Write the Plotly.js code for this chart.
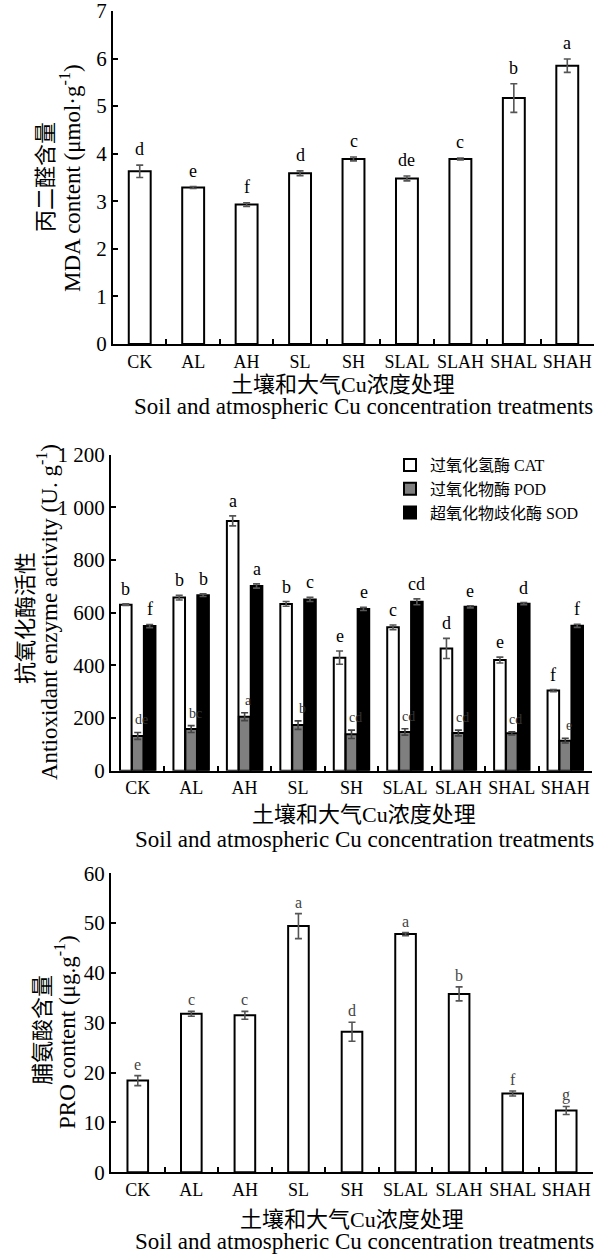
<!DOCTYPE html>
<html><head><meta charset="utf-8">
<script src="https://cdn.plot.ly/plotly-3.0.1.min.js"></script>
<style>html,body{margin:0;padding:0;background:#fff;overflow:hidden}</style>
</head><body>
<div id="chart" style="width:599px;height:1255px"></div>
<script>
// ---------- data ----------
const categories = ['CK','AL','AH','SL','SH','SLAL','SLAH','SHAL','SHAH'];

const mdaValues  = [3.63, 3.29, 2.93, 3.59, 3.89, 3.48, 3.89, 5.17, 5.85];
const mdaErrors  = [0.13, 0.02, 0.04, 0.05, 0.04, 0.05, 0.02, 0.30, 0.14];
const mdaLetters = ['d','e','f','d','c','de','c','b','a'];
const mdaTicks   = [0, 1, 2, 3, 4, 5, 6, 7];

const catValues  = [630, 657, 948, 633, 429, 544, 464, 420, 304];
const catErrors  = [3, 9, 19, 9, 25, 9, 38, 11, 4];
const catLetters = ['b','b','a','b','e','c','d','e','f'];

const podValues  = [132, 158, 205, 173, 138, 147, 143, 142, 114];
const podErrors  = [13, 13, 15, 16, 16, 12, 11, 6, 9];
const podLetters = ['de','bc','a','b','cd','cd','cd','cd','e'];

const sodValues  = [549, 666, 701, 650, 614, 641, 622, 634, 550];
const sodErrors  = [6, 5, 8, 8, 6, 11, 4, 4, 6];
const sodLetters = ['f','b','a','c','e','cd','e','d','f'];

const proValues  = [18.4, 31.8, 31.5, 49.4, 28.2, 47.8, 35.8, 15.8, 12.4];
const proErrors  = [1.0, 0.5, 0.8, 2.5, 1.9, 0.3, 1.4, 0.5, 0.8];
const proLetters = ['e','c','c','a','d','a','b','f','g'];
const proTicks   = [0, 10, 20, 30, 40, 50, 60];

const enzymeTickVals = [0, 200, 400, 600, 800, 1000, 1200];
const enzymeTickText = ['0','200','400','600','800','1 000','1 200'];

// ---------- styling ----------
const W = 599, H = 1255;
const FONT = 'Liberation Serif, "Times New Roman", "Noto Sans CJK SC", serif';
const px = x => x / W;
const py = y => 1 - y / H;

function err(arr, color) {
  return {type:'data', array:arr, visible:true, color:color || '#555', thickness:1.6, width:3.5};
}
const outline = {color:'#000', width:2};

const traces = [
  {type:'bar', x:categories, y:mdaValues, xaxis:'x', yaxis:'y', width:0.41,
   marker:{color:'#fff', line:outline}, error_y:err(mdaErrors), showlegend:false, hoverinfo:'skip'},
  {type:'bar', name:'过氧化氢酶 CAT', x:categories, y:catValues, xaxis:'x2', yaxis:'y2',
   marker:{color:'#fff', line:outline}, error_y:err(catErrors), hoverinfo:'skip'},
  {type:'bar', name:'过氧化物酶 POD', x:categories, y:podValues, xaxis:'x2', yaxis:'y2',
   marker:{color:'#7f7f7f', line:outline}, error_y:err(podErrors, '#444'), hoverinfo:'skip'},
  {type:'bar', name:'超氧化物歧化酶 SOD', x:categories, y:sodValues, xaxis:'x2', yaxis:'y2',
   marker:{color:'#000', line:outline}, error_y:err(sodErrors), hoverinfo:'skip'},
  {type:'bar', x:categories, y:proValues, xaxis:'x3', yaxis:'y3', width:0.385,
   marker:{color:'#fff', line:outline}, error_y:err(proErrors), showlegend:false, hoverinfo:'skip'}
];

function xAxis(domain, anchor) {
  return {domain:domain, anchor:anchor, type:'category', showline:true, linecolor:'#000', linewidth:2,
    ticks:'inside', tickson:'boundaries', ticklen:5, tickwidth:2, tickcolor:'#000', tickangle:0,
    automargin:false, showgrid:false, zeroline:false, tickfont:{family:FONT, size:18, color:'#000'}, fixedrange:true};
}
function yAxis(domain, anchor, range, vals, text) {
  return {domain:domain, anchor:anchor, range:range, showline:true, linecolor:'#000', linewidth:2,
    tickmode:'array', tickvals:vals, ticktext:text || vals.map(String), ticklabeloverflow:'allow',
    ticks:'inside', ticklen:5, tickwidth:2, tickcolor:'#000', showgrid:false, zeroline:false,
    automargin:false, tickfont:{family:FONT, size:21, color:'#000'}, fixedrange:true};
}

const annotations = [];
function letters(xref, yref, vals, errs, labs, size, color, xshift, yshift) {
  for (let i = 0; i < categories.length; i++) {
    annotations.push({xref:xref, yref:yref, x:categories[i], y:vals[i] + errs[i], text:labs[i],
      showarrow:false, yanchor:'bottom', xanchor:'center', xshift:xshift, yshift:yshift,
      font:{family:FONT, size:size, color:color}});
  }
}
letters('x','y', mdaValues, mdaErrors, mdaLetters, 18, '#000', 0, 4);
letters('x2','y2', catValues, catErrors, catLetters, 18, '#000', -12, 3);
letters('x2','y2', podValues, podErrors, podLetters, 14, '#333', 4, 3);
letters('x2','y2', sodValues, sodErrors, sodLetters, 18, '#000', 12, 3);
letters('x3','y3', proValues, proErrors, proLetters, 16, '#444', 0, 1);

function label(text, x, y, size, angle) {
  annotations.push({xref:'paper', yref:'paper', x:px(x), y:py(y), text:text, showarrow:false,
    xanchor:'center', yanchor:'middle', textangle:angle || 0,
    font:{family:FONT, size:size, color:'#000'}});
}
// axis titles
label('丙二醛含量', 45, 177, 22, -90);
label('MDA content (μmol·g<sup>-1</sup>)', 70, 178, 23, -90);
label('土壤和大气Cu浓度处理', 343, 385, 22);
label('Soil and atmospheric Cu concentration treatments', 363, 406, 23);

label('抗氧化酶活性', 25, 618, 22, -90);
label('Antioxidant enzyme activity (U. g<sup>-1</sup>)', 47, 612, 23, -90);
label('土壤和大气Cu浓度处理', 364, 814, 22);
label('Soil and atmospheric Cu concentration treatments', 364, 839, 23);

label('脯氨酸含量', 42, 1030, 22, -90);
label('PRO content (μg.g<sup>-1</sup>)', 65, 1032, 23, -90);
label('土壤和大气Cu浓度处理', 352, 1219, 22);
label('Soil and atmospheric Cu concentration treatments', 364, 1241, 23);

const layout = {
  width:W, height:H, margin:{l:0, r:0, t:0, b:0}, paper_bgcolor:'#fff', plot_bgcolor:'#fff',
  font:{family:FONT, color:'#000'},
  barmode:'group', bargap:0.33, bargroupgap:0.03,
  xaxis: xAxis([px(113), px(594)], 'y'),
  yaxis: yAxis([py(344), py(11)], 'x', [0, 7], mdaTicks),
  xaxis2: xAxis([px(111), px(592)], 'y2'),
  yaxis2: yAxis([py(770.7), py(454.5)], 'x2', [0, 1200], enzymeTickVals, enzymeTickText),
  xaxis3: xAxis([px(111), px(593)], 'y3'),
  yaxis3: yAxis([py(1172.3), py(873.3)], 'x3', [0, 60], proTicks),
  showlegend:true,
  legend:{x:px(390), y:py(448), xanchor:'left', yanchor:'top', bgcolor:'rgba(0,0,0,0)',
    font:{family:FONT, size:16, color:'#000'}, tracegroupgap:0, itemwidth:30, traceorder:'normal'},
  annotations:annotations
};

Plotly.newPlot('chart', traces, layout, {staticPlot:true, displayModeBar:false});
</script>
</body></html>
